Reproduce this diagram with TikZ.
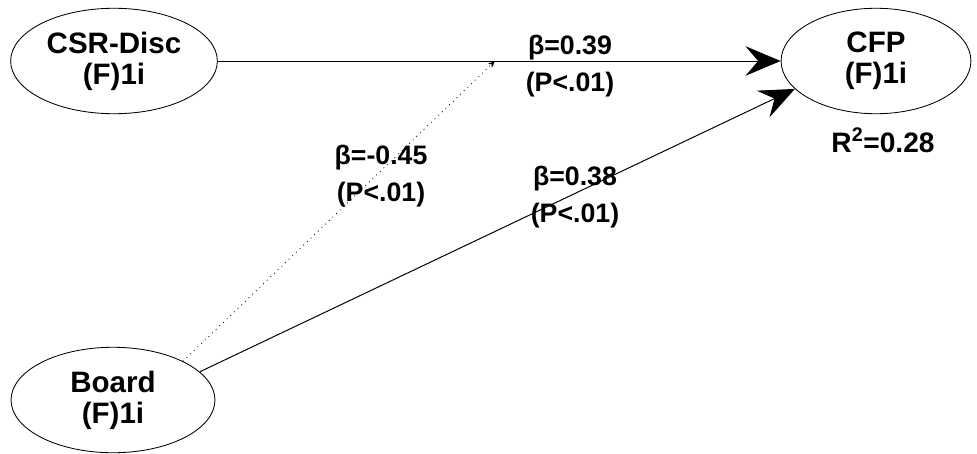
\documentclass[tikz,border=0pt]{standalone}
\usepackage{fontspec}
\setmainfont{Liberation Sans}
\usetikzlibrary{shapes.geometric,arrows.meta}

\begin{document}
\begin{tikzpicture}[x=0.025cm,y=-0.025cm,
  latent/.style={draw,ellipse,line width=0.6pt,minimum width=#1,minimum height=75pt,inner sep=0pt,align=center,font=\fontsize{21}{22}\selectfont\bfseries},
  coef/.style={align=center,font=\fontsize{19}{26}\selectfont\bfseries},
  effect/.style={line width=0.7pt,-{Stealth[length=25pt,width=21pt,inset=9pt]}}
]
  \useasboundingbox (0,0) rectangle (977,453);
  \node[latent=147pt] (csr) at (114,61) {CSR-Disc\\(F)1i};
  \node[latent=135pt] (cfp) at (876,61) {CFP\\(F)1i};
  \node[latent=145pt] (board) at (113,400) {Board\\(F)1i};
  \coordinate (mod) at (495,61);
  \draw[effect] (csr) -- (cfp);
  \draw[effect] (board.18) -- (cfp.199);
  \draw[line width=0.6pt,dash pattern=on 0.6pt off 3pt,-{Stealth[length=5pt,width=4pt]}] (board.29) -- (mod);
  \node[coef] (b1) at (570,66) {β=0.39\\(P<.01)};
  \node[coef] (b2) at (381,176) {β=-0.45\\(P<.01)};
  \node[coef] (b3) at (575,197) {β=0.38\\(P<.01)};
  \node[coef,font=\fontsize{20}{24}\selectfont\bfseries] (r2) at (883,140) {R\textsuperscript{2}=0.28};
\end{tikzpicture}
\end{document}
